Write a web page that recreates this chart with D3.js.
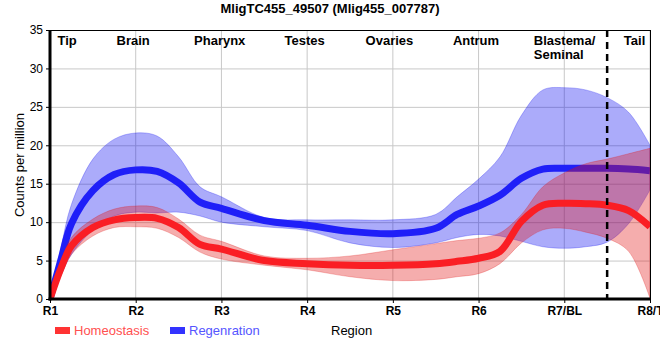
<!DOCTYPE html>
<html><head><meta charset="utf-8">
<script src="https://cdn.jsdelivr.net/npm/d3@7"></script>
<style>body{margin:0;background:#fff}svg{display:block;font-family:"Liberation Sans",Arial,sans-serif}</style>
</head><body><svg id="c" width="660" height="360"></svg>
<script>
// ---- data ----
const title = "MligTC455_49507 (Mlig455_007787)";
const categories = ["R1","R2","R3","R4","R5","R6","R7/BL","R8/T"];
const regions = ["Tip","Brain","Pharynx","Testes","Ovaries","Antrum","Blastema/\nSeminal","Tail"];
const yTicks = [0,5,10,15,20,25,30,35];
// sample positions in region-index units (0 = R1 ... 7 = R8/T)
const samplePos = [0,0.125,0.25,0.5,0.75,1,1.25,1.5,1.75,2,2.5,3,3.5,4,4.5,4.75,5,5.25,5.5,5.75,6,6.25,6.5,6.75,7];
const regMean = [0,5.0,9.8,14.1,16.2,16.8,16.6,15.1,12.6,11.8,10.2,9.6,8.8,8.5,9.2,11.0,12.1,13.5,15.7,16.9,17.0,17.0,17.0,16.9,16.7];
const regHi   = [0,6.5,12.3,18.2,20.8,21.6,21.2,18.5,14.6,13.3,10.6,10.3,10.3,10.3,11.0,13.3,15.6,18.5,23.9,27.2,27.5,27.2,26.2,24.3,20.0];
const regLo   = [0,3.0,5.8,9.0,10.8,11.3,11.2,11.3,10.8,10.0,9.4,8.9,7.3,6.7,7.3,8.0,8.4,8.2,7.5,6.8,6.6,6.8,7.4,9.8,14.2];
const homMean = [0,3.9,6.9,9.3,10.3,10.6,10.5,9.3,7.1,6.5,5.0,4.6,4.4,4.4,4.6,4.9,5.3,6.2,10.1,12.2,12.45,12.4,12.2,11.5,9.4];
const homHi   = [0,4.8,8.0,10.4,11.7,12.1,11.9,10.4,8.3,7.5,5.6,5.3,5.6,6.4,7.2,7.6,7.9,8.6,11.0,14.6,16.4,17.6,18.2,18.9,19.6];
const homLo   = [0,3.0,5.8,8.2,9.3,9.4,9.2,8.0,6.1,5.2,4.4,3.8,2.9,2.4,2.55,2.9,3.3,4.6,7.3,9.0,9.2,8.7,7.9,6.2,0.1];
const dividerPos = 6.5;
const seriesNames = ["Homeostasis","Regenration"];

// ---- layout ----
const svg = d3.select("#c");
const L = 50, R = 650, T = 30, B = 299;
const x = d3.scaleLinear().domain([0, categories.length-1]).range([L, R]);
const y = d3.scaleLinear().domain([0, 35]).range([B, T]);

const defs = svg.append("defs");
defs.append("clipPath").attr("id","pc").append("rect").attr("x",L).attr("y",T).attr("width",R-L).attr("height",B-T);

// grid
const g = svg.append("g");
g.selectAll(".gx").data(categories).join("line")
  .attr("x1",(d,i)=>x(i)).attr("x2",(d,i)=>x(i)).attr("y1",T).attr("y2",B)
  .attr("stroke","#c8c8c8").attr("stroke-width",1);
g.selectAll(".gy").data(yTicks).join("line")
  .attr("x1",L).attr("x2",R).attr("y1",d=>y(d)+0.5).attr("y2",d=>y(d)+0.5)
  .attr("stroke","#c8c8c8").attr("stroke-width",1);

const curve = d3.curveCatmullRom.alpha(0.5);
const area = (lo,hi)=>d3.area().curve(curve).x((d,i)=>x(samplePos[i])).y0((d,i)=>y(lo[i])).y1((d,i)=>y(hi[i]))(samplePos);
const line = (m)=>d3.line().curve(curve).x((d,i)=>x(samplePos[i])).y((d,i)=>y(m[i]))(samplePos);

const p = svg.append("g").attr("clip-path","url(#pc)");
p.append("path").attr("d",area(regLo,regHi)).attr("fill","rgba(0,0,240,0.33)").attr("stroke","rgba(0,0,240,0.25)").attr("stroke-width",1);
p.append("path").attr("d",line(regMean)).attr("fill","none").attr("stroke","#1f1ff8").attr("stroke-width",7);
p.append("path").attr("d",area(homLo,homHi)).attr("fill","rgba(225,20,20,0.35)").attr("stroke","rgba(225,20,20,0.25)").attr("stroke-width",1);
p.append("path").attr("d",line(homMean)).attr("fill","none").attr("stroke","#fa1e24").attr("stroke-width",7);

// divider
svg.append("line").attr("x1",x(dividerPos)).attr("x2",x(dividerPos)).attr("y1",T).attr("y2",B)
  .attr("stroke","#000").attr("stroke-width",2.5).attr("stroke-dasharray","7,5");

// border
svg.append("line").attr("x1",L).attr("x2",R).attr("y1",T+0.5).attr("y2",T+0.5).attr("stroke","#000").attr("stroke-width",1);
svg.append("line").attr("x1",R+0.5).attr("x2",R+0.5).attr("y1",T).attr("y2",B).attr("stroke","#000").attr("stroke-width",1);

// axes
const ya = svg.append("g").attr("transform",`translate(${L},0)`)
  .call(d3.axisLeft(y).tickValues(yTicks).tickSize(4).tickPadding(3));
ya.select(".domain").remove();
ya.selectAll("text").attr("font-size",12).attr("fill","#000").attr("font-family","Liberation Sans, Arial, sans-serif");
ya.selectAll("line").attr("stroke","#000");
const xa = svg.append("g").attr("transform",`translate(0,${B})`)
  .call(d3.axisBottom(x).tickValues(d3.range(categories.length)).tickFormat(i=>categories[i]).tickSize(4).tickPadding(3));
xa.select(".domain").remove();
xa.selectAll("text").attr("font-size",12).attr("font-weight","bold").attr("fill","#000").attr("font-family","Liberation Sans, Arial, sans-serif");
xa.selectAll("line").attr("stroke","#000");
svg.append("line").attr("x1",L).attr("x2",L).attr("y1",T).attr("y2",B+1.5).attr("stroke","#000").attr("stroke-width",3);
svg.append("line").attr("x1",L-1.5).attr("x2",R+1).attr("y1",B).attr("y2",B).attr("stroke","#000").attr("stroke-width",3);

// region labels
const rl = svg.append("g").attr("font-size",13).attr("font-weight","bold").attr("fill","#000");
const regionX = [0.2,0.97,1.98,2.97,3.96,4.97,5.75,6.82];
regions.forEach((r,i)=>{
  const lines = r.split("\n");
  const t = rl.append("text").attr("x",x(regionX[i])).attr("y",44.5).attr("text-anchor", lines.length>1?"start":"middle");
  if(lines.length>1) t.attr("x", x(regionX[i]) - 9);
  lines.forEach((s,k)=>t.append("tspan").attr("x",t.attr("x")).attr("dy",k?14:0).text(s));
});

// title
svg.append("text").attr("x",330).attr("y",13).attr("text-anchor","middle").attr("font-size",13).attr("font-weight","bold").text(title);
// y title
svg.append("text").attr("transform","translate(24,165) rotate(-90)").attr("text-anchor","middle").attr("font-size",13).text("Counts per million");
// x title
svg.append("text").attr("x",331).attr("y",335).attr("font-size",13).text("Region");

// legend
const lg = svg.append("g");
const legCols = [["#ff3333","#ff5050",55,74],["#3333ff","#5555ff",170,189]];
seriesNames.forEach((n,i)=>{
  const c = legCols[i];
  lg.append("rect").attr("x",c[2]).attr("y",327).attr("width",15).attr("height",7).attr("fill",c[0]);
  lg.append("text").attr("x",c[3]).attr("y",334.5).attr("font-size",13).attr("fill",c[1]).text(n);
});
</script></body></html>
